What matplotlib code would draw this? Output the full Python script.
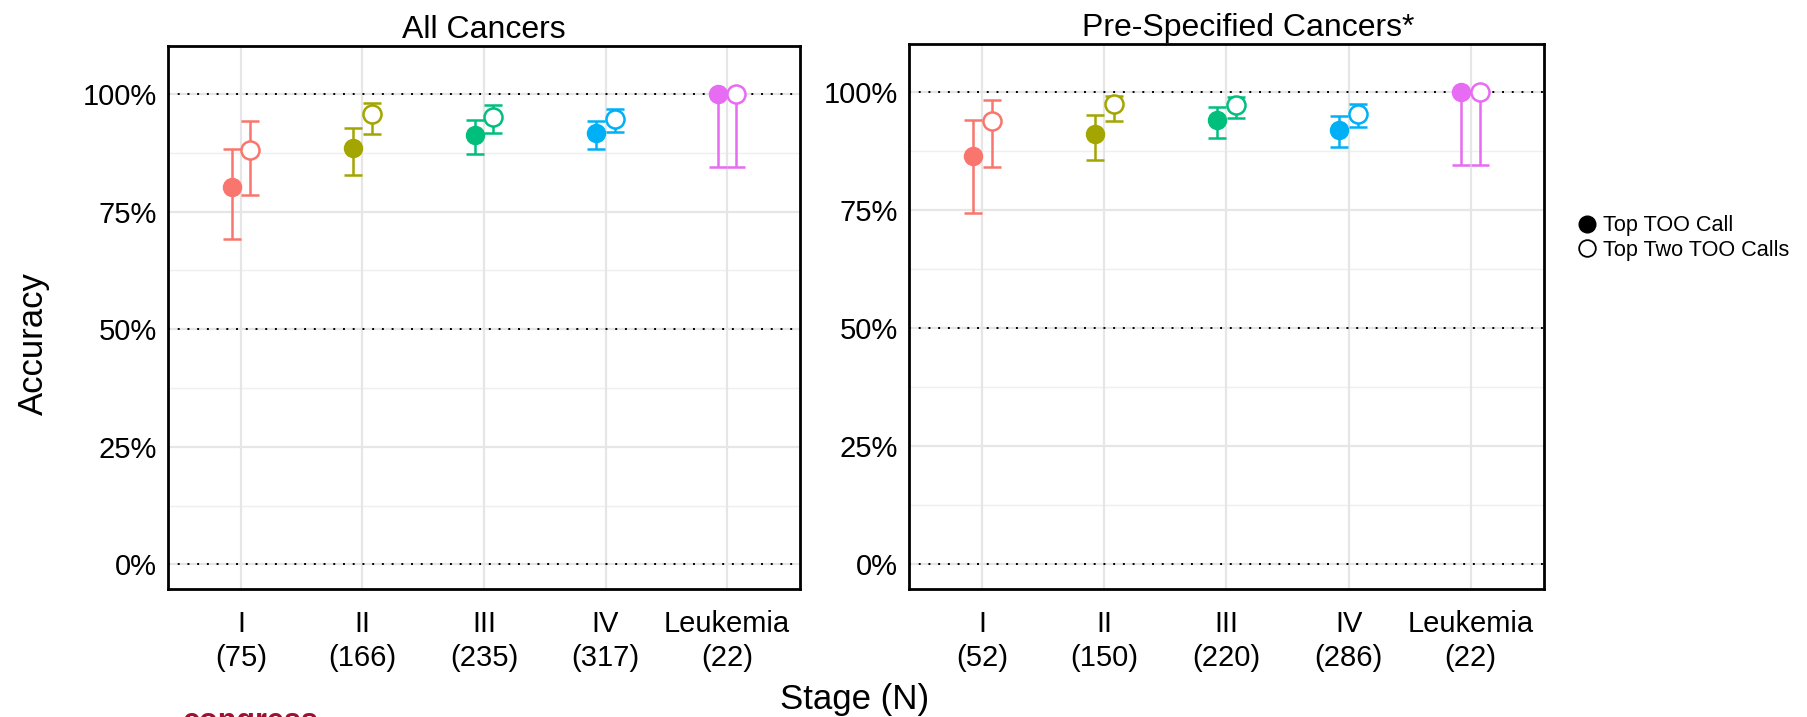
import matplotlib
matplotlib.use("Agg")
import matplotlib.pyplot as plt
from matplotlib.lines import Line2D
import numpy as np

# ── Data ───────────────────────────────────────────────
stages = ["I", "II", "III", "IV", "Leukemia"]
n_all = [75, 166, 235, 317, 22]
n_pre = [52, 150, 220, 286, 22]

# All cancers
all_top1    = [0.802, 0.885, 0.914, 0.917, 1.000]
all_top1_lo = [0.692, 0.828, 0.872, 0.883, 0.846]
all_top1_hi = [0.883, 0.929, 0.946, 0.944, 1.000]
all_top2    = [0.881, 0.957, 0.952, 0.948, 1.000]
all_top2_lo = [0.786, 0.915, 0.918, 0.919, 0.846]
all_top2_hi = [0.942, 0.981, 0.976, 0.969, 1.000]

# Pre-specified cancers
pre_top1    = [0.865, 0.912, 0.942, 0.921, 1.000]
pre_top1_lo = [0.745, 0.856, 0.903, 0.884, 0.846]
pre_top1_hi = [0.942, 0.951, 0.969, 0.949, 1.000]
pre_top2    = [0.940, 0.976, 0.974, 0.955, 1.000]
pre_top2_lo = [0.841, 0.940, 0.946, 0.926, 0.846]
pre_top2_hi = [0.984, 0.993, 0.990, 0.975, 1.000]

COLORS = ["#F8766D", "#A3A500", "#00BF7D", "#00B0F6", "#E76BF3"]
FONT = ["Liberation Sans", "DejaVu Sans"]
DODGE = 0.076

plt.rcParams.update({
    "font.family": FONT,
    "font.size": 21,
    "figure.facecolor": "white",
    "axes.facecolor": "white",
})

fig = plt.figure(figsize=(18.08, 7.17), dpi=100)
ax1 = fig.add_axes([168 / 1808, 128 / 717, 632 / 1808, 543 / 717])
ax2 = fig.add_axes([909 / 1808, 128 / 717, 635 / 1808, 545 / 717])


def draw_panel(ax, title, title_x, ns, t1, t1lo, t1hi, t2, t2lo, t2hi):
    x = np.arange(1, len(stages) + 1)
    # grid
    for g in [0.125, 0.375, 0.625, 0.875]:
        ax.axhline(g, color="#EFEFEF", lw=1.0, zorder=0)
    for g in [0.25, 0.75]:
        ax.axhline(g, color="#E6E6E6", lw=1.6, zorder=0)
    for xi in x:
        ax.axvline(xi, color="#E6E6E6", lw=1.6, zorder=0)
    for g in [0.0, 0.5, 1.0]:
        ax.axhline(g, color="#E6E6E6", lw=1.6, zorder=0)
        ax.axhline(g, color="black", lw=1.4, dashes=(1, 4), zorder=1)

    for i in range(len(stages)):
        c = COLORS[i]
        xa = x[i] - DODGE
        xb = x[i] + DODGE
        ax.errorbar(xa, t1[i], yerr=[[t1[i] - t1lo[i]], [t1hi[i] - t1[i]]],
                    fmt="none", ecolor=c, elinewidth=1.8, capsize=6.5,
                    capthick=1.8, zorder=2)
        ax.errorbar(xb, t2[i], yerr=[[t2[i] - t2lo[i]], [t2hi[i] - t2[i]]],
                    fmt="none", ecolor=c, elinewidth=1.8, capsize=6.5,
                    capthick=1.8, zorder=2)
        ax.plot(xa, t1[i], "o", ms=13, color=c, mec=c, zorder=3)
        ax.plot(xb, t2[i], "o", ms=13, mfc="white", mec=c, mew=1.8, zorder=3)

    ax.set_xlim(0.4, 5.6)
    ax.set_ylim(-0.0525, 1.1025)
    ax.set_yticks([0, 0.25, 0.5, 0.75, 1.0])
    ax.set_yticklabels(["0%", "25%", "50%", "75%", "100%"])
    ax.set_xticks(x)
    ax.set_xticklabels([f"{s}\n({n})" for s, n in zip(stages, ns)])
    for lbl in ax.get_xticklabels():
        lbl.set_linespacing(1.3)
    ax.tick_params(axis="both", length=0, labelsize=21, colors="black")
    ax.tick_params(axis="x", pad=15)
    ax.tick_params(axis="y", pad=8)
    for sp in ax.spines.values():
        sp.set_linewidth(2.0)
        sp.set_color("black")
    ax.set_title(title, fontsize=23, pad=6, x=title_x)


draw_panel(ax1, "All Cancers", 0.5, n_all, all_top1, all_top1_lo,
           all_top1_hi, all_top2, all_top2_lo, all_top2_hi)
draw_panel(ax2, "Pre-Specified Cancers*", 0.534, n_pre, pre_top1,
           pre_top1_lo, pre_top1_hi, pre_top2, pre_top2_lo, pre_top2_hi)

fig.text(855 / 1808, 1 - 699 / 717, "Stage (N)", ha="center", va="center",
         fontsize=25)
fig.text(33 / 1808, 1 - 344 / 717, "Accuracy", ha="center", va="center",
         rotation=90, fontsize=25)

handles = [
    Line2D([], [], marker="o", ls="none", ms=12, color="black"),
    Line2D([], [], marker="o", ls="none", ms=12, mfc="white", mec="black",
           mew=1.3),
]
fig.legend(handles, ["Top TOO Call", "Top Two TOO Calls"],
           loc="center left", bbox_to_anchor=(1563 / 1808, 1 - 238 / 717),
           frameon=False, fontsize=15.6, handletextpad=0.15,
           labelspacing=0.15, handlelength=1.2, borderpad=0)

# partial logo text at bottom edge (cut off, as in the source slide)
fig.text(183 / 1808, 1 - 707 / 717, "congress", ha="left", va="top",
         fontsize=22, fontweight="bold", color="#A01030")

fig.savefig("out.png", dpi=100)
